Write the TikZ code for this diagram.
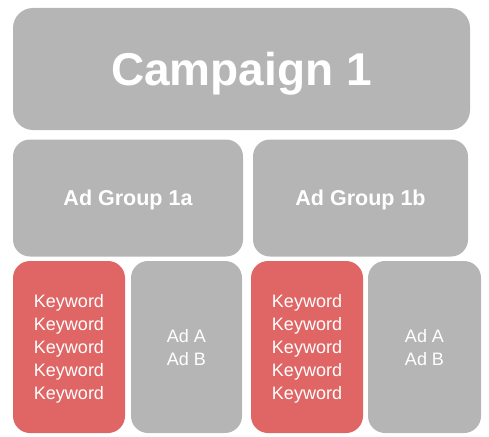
\documentclass[tikz,border=0pt]{standalone}
\usepackage{fontspec}
\setmainfont{Liberation Sans}
\usetikzlibrary{positioning}
\definecolor{boxgray}{HTML}{B5B5B5}
\definecolor{boxred}{HTML}{E06666}
\tikzstyle{block} = [rectangle, rounded corners=17pt, fill=boxgray, text=white, inner sep=0pt, align=center]
\tikzstyle{campaignbox} = [block, rounded corners=20pt, minimum width=457pt, minimum height=122pt, text depth=0pt, font=\bfseries\fontsize{46}{50}\selectfont]
\tikzstyle{groupbox} = [block, minimum height=117pt, text depth=0pt, font=\bfseries\fontsize{21.5}{25}\selectfont]
\tikzstyle{keybox} = [block, fill=boxred, minimum width=112pt, minimum height=172pt, text depth=-1.2pt, font=\fontsize{18}{23}\selectfont]
\tikzstyle{adbox} = [block, minimum height=172pt, text depth=-5pt, font=\fontsize{18}{23}\selectfont]

\begin{document}
\begin{tikzpicture}[x = 1pt, y = -1pt]

% ----------------------------------------------------
\useasboundingbox (0,0) rectangle (489,436);
% ----------------------------------------------------

  \node (campaign) [campaignbox] at (241.5, 69) {Campaign 1};

  \node (groupa) [groupbox, minimum width=230pt] at (128, 198) {Ad Group 1a};
  \node (groupb) [groupbox, minimum width=215pt] at (360.5, 198) {Ad Group 1b};

  \node (keysa) [keybox] at (69, 347) {Keyword\\Keyword\\Keyword\\Keyword\\Keyword};
  \node (adsa) [adbox, minimum width=111pt] at (186.5, 347) {Ad A\\Ad B};

  \node (keysb) [keybox] at (307, 347) {Keyword\\Keyword\\Keyword\\Keyword\\Keyword};
  \node (adsb) [adbox, minimum width=113pt] at (424.5, 347) {Ad A\\Ad B};

\end{tikzpicture}
\end{document}
